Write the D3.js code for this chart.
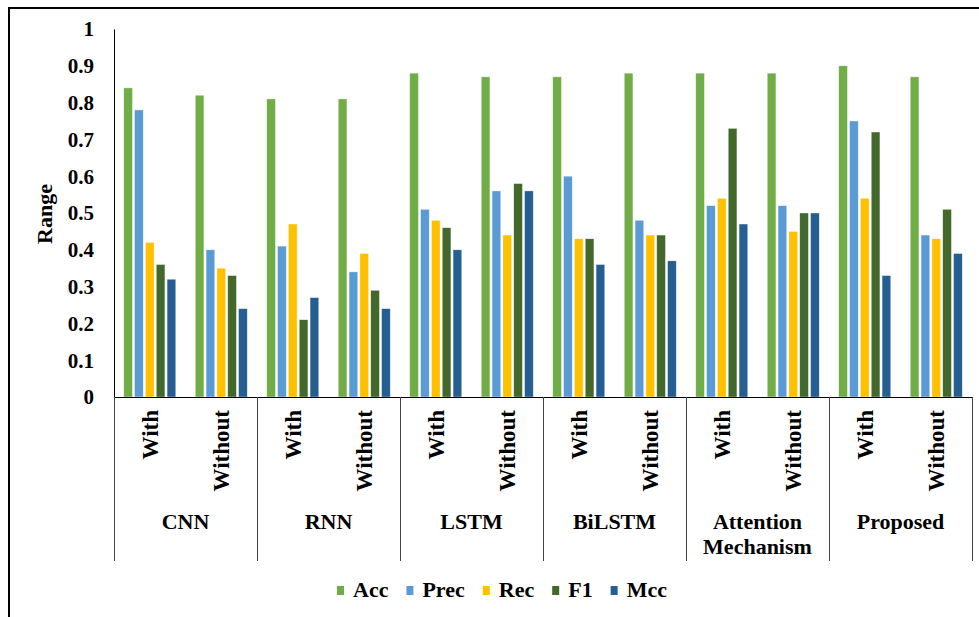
<!DOCTYPE html>
<html>
<head>
<meta charset="utf-8">
<script src="https://cdn.jsdelivr.net/npm/d3@7"></script>
<style>
  html, body { margin: 0; padding: 0; background: #fff; }
  svg { display: block; }
</style>
</head>
<body>
<svg id="chart" width="979" height="617"></svg>
<script>
// ---- data ----
const groups = ["CNN", "RNN", "LSTM", "BiLSTM", "Attention Mechanism", "Proposed"];
const conditions = ["With", "Without"];
const metrics = ["Acc", "Prec", "Rec", "F1", "Mcc"];
const colors = ["#70AD47", "#5B9BD5", "#FFC000", "#43682B", "#255E91"];
const yTicks = [0, 0.1, 0.2, 0.3, 0.4, 0.5, 0.6, 0.7, 0.8, 0.9, 1];
const yTickLabels = ["0", "0.1", "0.2", "0.3", "0.4", "0.5", "0.6", "0.7", "0.8", "0.9", "1"];

// values per subcategory (group x condition), order: Acc, Prec, Rec, F1, Mcc
const CNN_With = [0.84, 0.78, 0.42, 0.36, 0.32];
const CNN_Without = [0.82, 0.40, 0.35, 0.33, 0.24];
const RNN_With = [0.81, 0.41, 0.47, 0.21, 0.27];
const RNN_Without = [0.81, 0.34, 0.39, 0.29, 0.24];
const LSTM_With = [0.88, 0.51, 0.48, 0.46, 0.40];
const LSTM_Without = [0.87, 0.56, 0.44, 0.58, 0.56];
const BiLSTM_With = [0.87, 0.60, 0.43, 0.43, 0.36];
const BiLSTM_Without = [0.88, 0.48, 0.44, 0.44, 0.37];
const Att_With = [0.88, 0.52, 0.54, 0.73, 0.47];
const Att_Without = [0.88, 0.52, 0.45, 0.50, 0.50];
const Prop_With = [0.90, 0.75, 0.54, 0.72, 0.33];
const Prop_Without = [0.87, 0.44, 0.43, 0.51, 0.39];

const seriesValues = [
  [CNN_With, CNN_Without],
  [RNN_With, RNN_Without],
  [LSTM_With, LSTM_Without],
  [BiLSTM_With, BiLSTM_Without],
  [Att_With, Att_Without],
  [Prop_With, Prop_Without]
];

(function () {
const FONT = "Liberation Serif";
const styleText = sel => sel.style("font-family", FONT).style("font-weight", "bold").style("fill", "#000");

// ---- build table ----
const rows = [];
groups.forEach((g, gi) => conditions.forEach((c, ci) => {
  rows.push({ key: g + "|" + c, group: g, cond: c, values: seriesValues[gi][ci] });
}));

const svg = d3.select("#chart");
const pLeft = 114, pRight = 972, pTop = 29, pBottom = 397;

const y = d3.scaleLinear().domain([0, 1]).range([pBottom, pTop]);
const x0 = d3.scaleBand().domain(rows.map(r => r.key)).range([pLeft, pRight]).padding(0);
const x1 = d3.scaleBand().domain(metrics).range([0, x0.bandwidth()]).paddingInner(0.2).paddingOuter(0.9);
const color = d3.scaleOrdinal().domain(metrics).range(colors);

// frame
svg.append("rect").attr("x", 9).attr("y", 8).attr("width", 985).attr("height", 625)
  .attr("fill", "none").attr("stroke", "#000").attr("stroke-width", 2);

// bars
const sub = svg.append("g").selectAll("g").data(rows).join("g")
  .attr("transform", d => `translate(${x0(d.key)},0)`);
sub.selectAll("rect").data(d => metrics.map((m, i) => ({ m, v: d.values[i] }))).join("rect")
  .attr("x", d => x1(d.m))
  .attr("width", x1.bandwidth())
  .attr("y", d => y(d.v))
  .attr("height", d => y(0) - y(d.v))
  .attr("fill", d => color(d.m))
  .attr("stroke", "#ffffff").attr("stroke-opacity", 0.6).attr("stroke-width", 0.6);

// y axis
const yAxis = d3.axisLeft(y).tickValues(yTicks).tickFormat((d, i) => yTickLabels[i]).tickSize(0).tickPadding(20);
const ya = svg.append("g").attr("transform", `translate(${pLeft},0)`).call(yAxis);
ya.select(".domain").attr("stroke", "#000").attr("stroke-width", 1);
ya.selectAll("text").call(styleText).style("font-size", "21px").attr("dy", "0.33em").attr("x", -20);

// x axis line
svg.append("line").attr("x1", pLeft).attr("x2", pRight).attr("y1", pBottom + 0.5).attr("y2", pBottom + 0.5)
  .attr("stroke", "#000").attr("stroke-width", 1);

// group separators
const sepX = groups.map(g => x0(g + "|With")).concat([pRight]);
svg.append("g").selectAll("line").data(sepX).join("line")
  .attr("x1", d => Math.round(d) + 0.5).attr("x2", d => Math.round(d) + 0.5)
  .attr("y1", pBottom).attr("y2", 561)
  .attr("stroke", "#444").attr("stroke-width", 1);

// condition labels
svg.append("g").selectAll("text").data(rows).join("text")
  .attr("transform", d => `translate(${x0(d.key) + x0.bandwidth() / 2},410) rotate(-90)`)
  .attr("text-anchor", "end").attr("dy", "0.35em")
  .call(styleText).style("font-size", "23px").text(d => d.cond);

// group labels
const gl = svg.append("g").selectAll("text").data(groups).join("text")
  .attr("x", g => x0(g + "|With") + x0.bandwidth())
  .attr("y", 529)
  .attr("text-anchor", "middle").call(styleText).style("font-size", "22px");
gl.each(function (g) {
  const words = g.split(" ");
  const t = d3.select(this);
  const cx = t.attr("x");
  words.forEach((w, i) => t.append("tspan").attr("x", cx).attr("dy", i === 0 ? 0 : 25).text(w));
});

// y label
svg.append("text").attr("transform", "translate(52,214) rotate(-90)")
  .attr("text-anchor", "middle").call(styleText).style("font-size", "22px").text("Range");

// legend
let lx = 337;
const lg = svg.append("g");
metrics.forEach((m, i) => {
  lg.append("rect").attr("x", lx).attr("y", 586).attr("width", 7).attr("height", 9).attr("fill", colors[i]);
  const t = lg.append("text").attr("x", lx + 16).attr("y", 597).call(styleText).style("font-size", "22px").text(m);
  lx += 16 + t.node().getComputedTextLength() + 18;
});
})();
</script>
</body>
</html>
